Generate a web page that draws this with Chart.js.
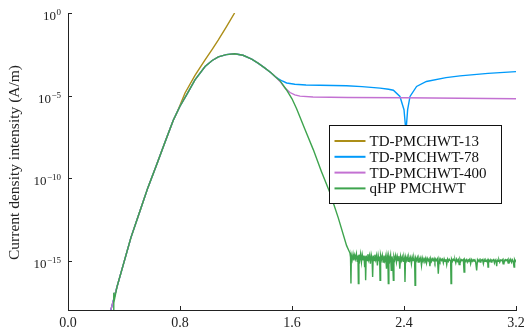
<!DOCTYPE html>
<html>
<head>
<meta charset="utf-8">
<script src="https://cdn.jsdelivr.net/npm/chart.js@4.4.1/dist/chart.umd.min.js"></script>
<style>
  html, body { margin: 0; padding: 0; background: #fff; }
  #wrap { width: 525px; height: 329px; }
</style>
</head>
<body>
<div id="wrap"><canvas id="grafico" width="525" height="329"></canvas></div>
<script>
// valores, en log10 de la intensidad (A/m)
// tramo comun de subida (todas las curvas)
var mainX   = [0.300, 0.306, 0.35, 0.40, 0.45, 0.514, 0.57, 0.633, 0.69, 0.752, 0.78, 0.80, 0.848, 0.907, 0.979, 1.03, 1.074, 1.13, 1.19, 1.25, 1.312, 1.36, 1.407, 1.45, 1.479];
var mainLog = [-18.2, -18.0, -16.6, -15.1, -13.6, -12.0, -10.6, -9.2, -7.9, -6.5, -6.0, -5.65, -4.95, -4.05, -3.24, -2.88, -2.66, -2.52, -2.47, -2.56, -2.8, -3.05, -3.34, -3.62, -3.85];

// TD-PMCHWT-13 (se separa hacia arriba)
var goldX   = [0.836, 0.907, 0.979, 1.03, 1.074, 1.13, 1.19];
var goldLog = [-4.85, -3.78, -2.84, -2.2, -1.63, -0.85, 0.0];

// TD-PMCHWT-78
var blueX   = [1.50, 1.53, 1.562, 1.62, 1.70, 1.80, 1.99, 2.10, 2.229, 2.29, 2.324, 2.371, 2.40, 2.414, 2.426, 2.443, 2.49, 2.56, 2.70, 2.80, 3.00, 3.20];
var blueLog = [-3.97, -4.12, -4.24, -4.32, -4.36, -4.38, -4.41, -4.46, -4.55, -4.62, -4.68, -5.06, -5.86, -7.2, -5.86, -5.06, -4.45, -4.15, -3.92, -3.81, -3.66, -3.55];

// TD-PMCHWT-400
var purpleX   = [1.52, 1.55, 1.586, 1.62, 1.657, 1.75, 2.0, 2.4, 2.8, 3.2];
var purpleLog = [-4.2, -4.55, -4.82, -4.96, -5.04, -5.09, -5.12, -5.14, -5.17, -5.2];

// qHP PMCHWT: pico inicial, caida y ruido numerico
var greenHeadX   = [0.324, 0.327, 0.331];
var greenHeadLog = [-19.0, -16.95, -17.4];
var greenTailX   = [1.514, 1.56, 1.60, 1.633, 1.69, 1.752, 1.81, 1.871, 1.93, 1.99];
var greenTailLog = [-4.1, -4.65, -5.2, -5.8, -7.0, -8.28, -9.6, -10.9, -12.4, -14.1];
// ruido [x, log10]
var ruido = [
  [2.014,-14.55],[2.018,-14.8],[2.021,-16.4],[2.024,-14.7],[2.03,-14.95],[2.036,-14.62],[2.042,-15.0],[2.048,-14.68],[2.054,-14.9],[2.06,-14.6],
  [2.066,-15.05],[2.071,-14.7],[2.074,-16.4],[2.078,-14.65],[2.084,-14.95],[2.09,-14.6],[2.096,-15.1],[2.102,-14.65],[2.108,-14.95],[2.114,-14.7],
  [2.119,-15.4],[2.123,-14.75],[2.126,-16.2],[2.13,-14.7],[2.136,-15.0],[2.142,-14.62],[2.148,-14.95],[2.154,-14.7],[2.16,-15.2],[2.166,-14.65],
  [2.172,-14.9],[2.176,-16.0],[2.18,-14.7],[2.186,-15.0],[2.192,-14.65],[2.198,-14.95],[2.204,-14.7],[2.21,-15.3],[2.216,-14.7],[2.222,-15.0],
  [2.226,-14.75],[2.229,-16.2],[2.233,-14.7],[2.239,-14.95],[2.245,-14.68],[2.251,-15.1],[2.257,-14.7],[2.263,-15.0],[2.269,-14.75],[2.275,-15.5],
  [2.28,-14.7],[2.285,-14.95],[2.288,-16.4],[2.292,-14.75],[2.298,-15.0],[2.304,-14.7],[2.309,-15.6],[2.314,-14.75],[2.319,-15.0],[2.324,-16.2],
  [2.328,-14.75],[2.334,-14.95],[2.34,-14.7],[2.346,-15.1],[2.352,-14.75],[2.358,-15.0],[2.364,-14.72],[2.37,-15.5],[2.376,-14.75],[2.382,-15.0],
  [2.388,-14.78],[2.394,-15.05],[2.4,-14.8],[2.404,-14.95],[2.407,-16.3],[2.411,-14.8],[2.417,-15.0],[2.423,-14.78],[2.429,-15.05],[2.435,-14.8],
  [2.441,-15.0],[2.447,-14.82],[2.453,-15.2],[2.459,-14.8],[2.465,-15.0],[2.471,-14.85],[2.476,-15.05],[2.479,-16.5],[2.483,-14.85],[2.489,-15.0],
  [2.495,-14.82],[2.501,-15.1],[2.507,-14.85],[2.513,-15.0],[2.519,-14.85],[2.525,-15.3],[2.531,-14.85],[2.537,-15.05],[2.543,-14.88],[2.549,-15.0],
  [2.555,-14.85],[2.561,-15.15],[2.567,-14.88],[2.573,-15.0],[2.579,-14.9],[2.585,-15.35],[2.591,-14.88],[2.597,-15.05],[2.603,-14.9],[2.609,-15.0],
  [2.615,-14.88],[2.621,-15.1],[2.627,-14.9],[2.633,-15.0],[2.639,-14.9],[2.645,-15.8],[2.651,-14.9],[2.657,-15.05],[2.663,-14.9],[2.669,-15.0],
  [2.675,-14.92],[2.681,-15.15],[2.687,-14.9],[2.693,-15.05],[2.699,-14.92],[2.705,-15.25],[2.711,-14.92],[2.717,-15.05],[2.723,-14.92],[2.729,-15.0],
  [2.733,-14.95],[2.736,-16.4],[2.74,-14.92],[2.746,-15.05],[2.752,-14.92],[2.758,-15.0],[2.764,-14.95],[2.77,-15.15],[2.776,-14.92],[2.782,-15.05],
  [2.788,-14.95],[2.794,-15.25],[2.8,-14.92],[2.806,-15.05],[2.812,-14.95],[2.818,-15.0],[2.824,-14.95],[2.829,-15.7],[2.834,-14.95],[2.84,-15.05],
  [2.846,-14.95],[2.852,-15.1],[2.858,-14.95],[2.864,-15.0],[2.87,-14.92],[2.876,-15.2],[2.882,-14.95],[2.888,-15.05],[2.894,-14.95],[2.9,-15.0],
  [2.906,-14.95],[2.912,-15.1],[2.919,-15.6],[2.925,-14.95],[2.931,-15.05],[2.937,-14.95],[2.943,-15.1],[2.949,-14.95],[2.955,-15.0],[2.961,-14.95],
  [2.967,-15.2],[2.973,-14.95],[2.979,-15.05],[2.985,-14.97],[2.991,-15.05],[2.997,-14.97],[3.0,-15.4],[3.004,-14.97],[3.01,-15.05],[3.016,-14.95],
  [3.022,-15.1],[3.028,-14.97],[3.034,-15.0],[3.04,-14.95],[3.046,-15.15],[3.052,-14.97],[3.058,-15.05],[3.062,-15.35],[3.066,-14.97],[3.072,-15.05],
  [3.078,-14.95],[3.084,-15.1],[3.09,-14.97],[3.096,-15.0],[3.102,-14.95],[3.108,-15.2],[3.114,-14.97],[3.12,-15.05],[3.126,-14.95],[3.132,-15.0],
  [3.138,-14.95],[3.144,-15.15],[3.15,-14.95],[3.156,-15.05],[3.162,-14.93],[3.168,-15.1],[3.174,-14.95],[3.18,-15.05],[3.186,-15.4],[3.19,-14.95],
  [3.195,-15.05],[3.2,-14.95]
];

var etiquetas = ['TD-PMCHWT-13', 'TD-PMCHWT-78', 'TD-PMCHWT-400', 'qHP PMCHWT'];
var colores   = ['#AC8E18', '#009AFA', '#C371D2', '#3EA44E'];
var xTicks    = [0.0, 0.8, 1.6, 2.4, 3.2];
var yTickExps = [0, -5, -10, -15];
var tituloY   = 'Current density intensity (A/m)';

function puntos(xs, logs){
    var res = [];
    for (var i = 0; i < xs.length; i++){
        res.push({x: xs[i], y: Math.pow(10, logs[i])});
    }
    return res;
}
// tramo comun entre dos x
function tramo(desde, hasta){
    var xs = [], ls = [];
    for (var i = 0; i < mainX.length; i++){
        if (mainX[i] >= desde && mainX[i] <= hasta){ xs.push(mainX[i]); ls.push(mainLog[i]); }
    }
    return puntos(xs, ls);
}

var datosGold   = tramo(0, 0.78).concat(puntos(goldX, goldLog));
var datosBlue   = tramo(0, 1.479).concat(puntos(blueX, blueLog));
var datosPurple = tramo(0, 1.479).concat(puntos(purpleX, purpleLog));
var datosGreen  = puntos(greenHeadX, greenHeadLog)
    .concat(tramo(0.34, 1.479))
    .concat(puntos(greenTailX, greenTailLog))
    .concat(ruido.map(function(p){ return {x: p[0], y: Math.pow(10, p[1])}; }));

var serif = "'Liberation Serif', 'DejaVu Serif', serif";

// ticks hacia dentro, etiquetas del eje y con exponente, titulo y leyenda
var extras = {
    id: 'extras',
    afterDraw: function(chart){
        var ctx = chart.ctx;
        var xs = chart.scales.x, ys = chart.scales.y, a = chart.chartArea;
        ctx.save();
        ctx.strokeStyle = '#222';
        ctx.lineWidth = 1;
        // ticks
        xTicks.forEach(function(v){
            var px = Math.round(xs.getPixelForValue(v)) + 0.5;
            ctx.beginPath(); ctx.moveTo(px, a.bottom); ctx.lineTo(px, a.bottom - 4); ctx.stroke();
        });
        yTickExps.forEach(function(e){
            var py = Math.round(ys.getPixelForValue(Math.pow(10, e))) + 0.5;
            ctx.beginPath(); ctx.moveTo(a.left, py); ctx.lineTo(a.left + 4, py); ctx.stroke();
        });
        // etiquetas 10^n
        ctx.fillStyle = '#222';
        ctx.textBaseline = 'alphabetic';
        yTickExps.forEach(function(e){
            var py = ys.getPixelForValue(Math.pow(10, e));
            var exp = e === 0 ? '0' : '\u2212' + (-e);
            ctx.font = '9px ' + serif;
            var ew = ctx.measureText(exp).width;
            ctx.textAlign = 'left';
            ctx.fillText(exp, 61 - ew, py + 2);
            ctx.font = '13px ' + serif;
            ctx.textAlign = 'right';
            ctx.fillText('10', 60.5 - ew, py + 7);
        });
        // titulo eje y
        ctx.save();
        ctx.translate(15, (a.top + a.bottom) / 2 + 1);
        ctx.rotate(-Math.PI / 2);
        ctx.textAlign = 'center';
        ctx.textBaseline = 'middle';
        ctx.font = '15.5px ' + serif;
        ctx.fillText(tituloY, 0, 0);
        ctx.restore();
        // leyenda
        var lx = 329.5, ly = 125.5, lw = 172, lh = 78;
        ctx.fillStyle = '#fff';
        ctx.fillRect(lx, ly, lw, lh);
        ctx.strokeStyle = '#111';
        ctx.lineWidth = 1;
        ctx.strokeRect(lx, ly, lw, lh);
        ctx.font = '15px ' + serif;
        ctx.textAlign = 'left';
        ctx.textBaseline = 'middle';
        etiquetas.forEach(function(t, i){
            var yy = ly + 15.5 + i * 15.8;
            ctx.strokeStyle = colores[i];
            ctx.lineWidth = 2;
            ctx.beginPath(); ctx.moveTo(lx + 5, yy); ctx.lineTo(lx + 36, yy); ctx.stroke();
            ctx.fillStyle = '#111';
            ctx.fillText(t, lx + 40, yy + 1);
        });
        ctx.restore();
    }
};

var series = [datosGold, datosBlue, datosPurple, datosGreen];
var datasets = series.map(function(d, i){
    return {
        label: etiquetas[i],
        data: d,
        borderColor: colores[i],
        backgroundColor: colores[i],
        borderWidth: 1.4,
        pointRadius: 0,
        tension: 0,
        fill: false,
        // la ultima serie queda encima
        order: series.length - i
    };
});

new Chart(document.getElementById('grafico'), {
    type: 'line',
    data: { datasets: datasets },
    plugins: [extras],
    options: {
        responsive: false,
        animation: false,
        layout: { padding: { left: 0, right: 9, top: 13, bottom: 0 }, autoPadding: false },
        plugins: { legend: { display: false }, tooltip: { enabled: false } },
        scales: {
            x: {
                type: 'linear',
                min: 0, max: 3.2,
                afterBuildTicks: function(s){ s.ticks = xTicks.map(function(v){ return {value: v}; }); },
                afterFit: function(s){ s.height = 19; s.paddingLeft = 0; s.paddingRight = 0; },
                grid: { display: false, drawTicks: false },
                border: { display: true, color: '#222', width: 1 },
                ticks: {
                    padding: 5,
                    color: '#222',
                    font: { family: serif, size: 14 },
                    maxRotation: 0,
                    callback: function(v){ return Number(v).toFixed(1); }
                }
            },
            y: {
                type: 'logarithmic',
                min: 1e-18, max: 1,
                afterFit: function(s){ s.width = 68; s.paddingTop = 0; s.paddingBottom = 0; },
                grid: { display: false, drawTicks: false },
                border: { display: true, color: '#222', width: 1 },
                ticks: { display: false }
            }
        }
    }
});
</script>
</body>
</html>
